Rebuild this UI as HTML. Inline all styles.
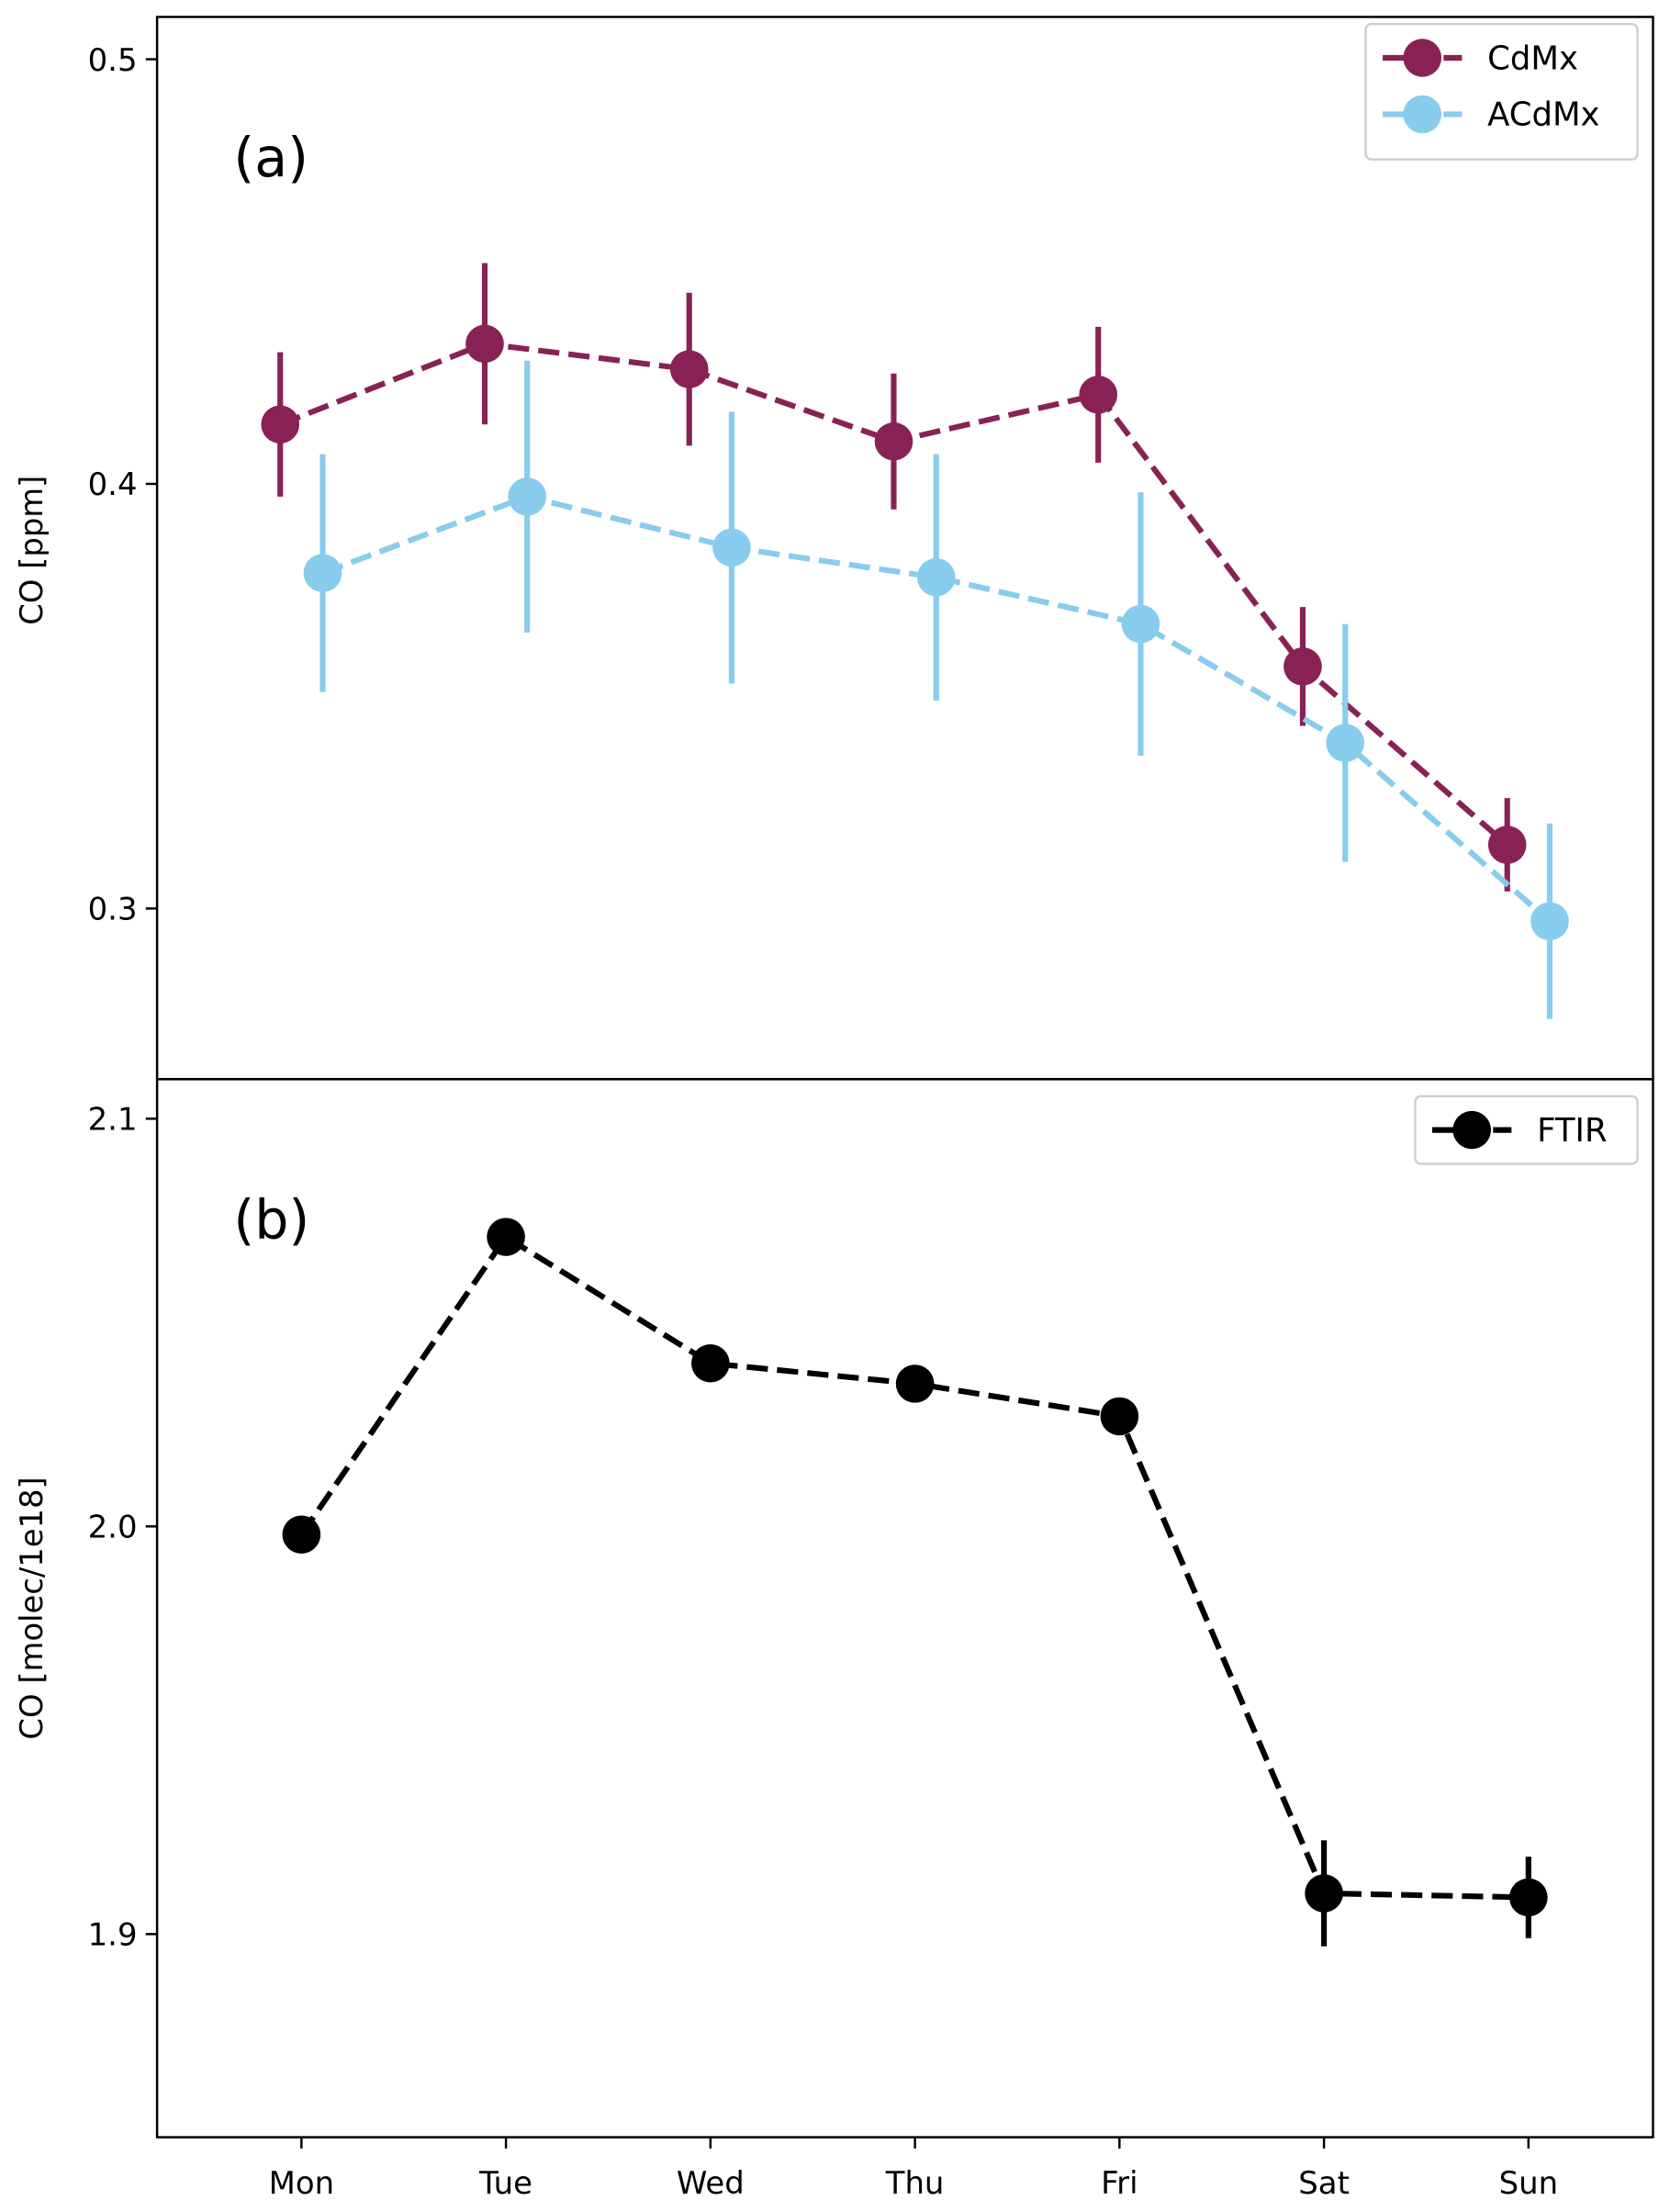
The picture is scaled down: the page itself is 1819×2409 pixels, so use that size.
<!DOCTYPE html>
<html><head><meta charset="utf-8"><style>
html,body{margin:0;padding:0;background:#fff;}
svg{display:block;font-family:"DejaVu Sans","Liberation Sans",sans-serif;}
</style></head><body>
<svg id="chart" width="1819" height="2409" viewBox="0 0 1180 1568" preserveAspectRatio="none" xmlns="http://www.w3.org/2000/svg"></svg>
<script>
const days = ["Mon","Tue","Wed","Thu","Fri","Sat","Sun"];
const cdmxVals = [0.414,0.433,0.427,0.410,0.421,0.357,0.315];
const cdmxErr = [0.017,0.019,0.018,0.016,0.016,0.014,0.011];
const acdmxVals = [0.379,0.397,0.385,0.378,0.367,0.339,0.297];
const acdmxErr = [0.028,0.032,0.032,0.029,0.031,0.028,0.023];
const ftirVals = [1.998,2.071,2.040,2.035,2.027,1.910,1.909];
const ftirErr = [0.001,0.001,0.001,0.001,0.001,0.013,0.010];
const topTicks = [0.3,0.4,0.5];
const botTicks = [1.9,2.0,2.1];

const svg = document.getElementById('chart');
const NS = "http://www.w3.org/2000/svg";
function mk(tag, attrs, parent){const e=document.createElementNS(NS,tag);for(const k in attrs)e.setAttribute(k,attrs[k]);(parent||svg).appendChild(e);return e;}
const L=111,R=1168;
const xDay = i => 213 + i*144.5;
const yTop = v => 42 + (0.5 - v)*3010;
const yBot = v => 793 + (2.1 - v)*2890;

let f1 = mk('rect',{x:L,y:12,width:R-L,height:753,fill:'none',stroke:'#000','stroke-width':1.6});


let f2 = mk('rect',{x:L,y:765,width:R-L,height:750,fill:'none',stroke:'#000','stroke-width':1.6});



function yTicks(ticks, yf, name){
  ticks.forEach(t=>{
    const y=yf(t);
    const l=mk('line',{x1:L-8,x2:L,y1:y,y2:y,stroke:'#000','stroke-width':1.6});
    
    
    const tx=mk('text',{x:L-14,y:y+8,'text-anchor':'end','font-size':22});
    tx.textContent=t.toFixed(1);
    
    
  });
}
yTicks(topTicks,yTop,'top-y');
yTicks(botTicks,yBot,'bottom-y');
days.forEach((d,i)=>{
  const x=xDay(i);
  const l=mk('line',{x1:x,x2:x,y1:1515,y2:1523,stroke:'#000','stroke-width':1.6});
  
  
  const t=mk('text',{x:x,y:1555,'text-anchor':'middle','font-size':22});
  t.textContent=d;
  
  
});
let yl1=mk('text',{x:0,y:0,'text-anchor':'middle','font-size':22,transform:'translate(30,390) rotate(-90)'});
yl1.textContent='CO [ppm]';


let yl2=mk('text',{x:0,y:0,'text-anchor':'middle','font-size':22,transform:'translate(30,1140) rotate(-90)'});
yl2.textContent='CO [molec/1e18]';


let pa=mk('text',{x:165,y:125,'font-size':38});
pa.textContent='(a)';


let pb=mk('text',{x:165,y:878,'font-size':38});
pb.textContent='(b)';



function series(vals, errs, yf, off, color, name){
  const g=mk('g',{});
  
  
  const pts=vals.map((v,i)=>(xDay(i)+off)+','+yf(v)).join(' ');
  const pl=mk('polyline',{points:pts,fill:'none',stroke:color,'stroke-width':4,'stroke-dasharray':'15,6.5'},g);
  
  
  vals.forEach((v,i)=>{
    const x=xDay(i)+off;
    const e=mk('line',{x1:x,x2:x,y1:yf(v-errs[i]),y2:yf(v+errs[i]),stroke:color,'stroke-width':4},g);
    
    
    const c=mk('circle',{cx:x,cy:yf(v),r:13.5,fill:color},g);
    
    
  });
}
series(cdmxVals,cdmxErr,yTop,-15,'#882255','cdmx');
series(acdmxVals,acdmxErr,yTop,15,'#88ccee','acdmx');
series(ftirVals,ftirErr,yBot,0,'#000','ftir');

function legend(x,y,w,h,entries,name){
  const g=mk('g',{});
  
  
  mk('rect',{x:x,y:y,width:w,height:h,rx:4,fill:'#fff',stroke:'#ccc','stroke-width':1.5},g);
  entries.forEach((e,i)=>{
    const cy=y+24+i*40;
    mk('line',{x1:x+12,x2:x+68,y1:cy,y2:cy,stroke:e[1],'stroke-width':4,'stroke-dasharray':'15,6.5'},g);
    mk('circle',{cx:x+40,cy:cy,r:13.5,fill:e[1]},g);
    const t=mk('text',{x:x+86,y:cy+8,'font-size':23},g);
    t.textContent=e[0];
    
    
  });
}
legend(965,17,192,96,[['CdMx','#882255'],['ACdMx','#88ccee']],'top-legend');
legend(1000,777,157,48,[['FTIR','#000']],'bottom-legend');
</script>
</body></html>
